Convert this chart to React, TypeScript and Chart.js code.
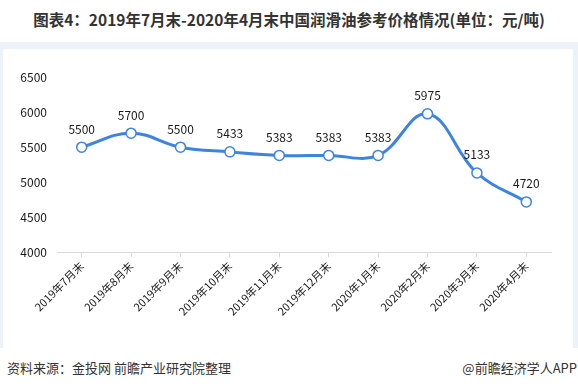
import React, { useEffect, useRef } from "react";
import { Chart, registerables } from "chart.js";

Chart.register(...registerables);

const categories = [
  "2019年7月末",
  "2019年8月末",
  "2019年9月末",
  "2019年10月末",
  "2019年11月末",
  "2019年12月末",
  "2020年1月末",
  "2020年2月末",
  "2020年3月末",
  "2020年4月末",
];
const prices = [5500, 5700, 5500, 5433, 5383, 5383, 5383, 5975, 5133, 4720];
const yMin = 4000;
const yMax = 6500;
const yStep = 500;

const titleText = "图表4：2019年7月末-2020年4月末中国润滑油参考价格情况(单位：元/吨)";
const sourceText = "资料来源：金投网 前瞻产业研究院整理";
const brandText = "@前瞻经济学人APP";

const FONT = '"Noto Sans CJK SC", "Noto Sans", sans-serif';
const LINE_COLOR = "#3d84e0";

const valueLabels = {
  id: "valueLabels",
  afterDatasetsDraw(chart: any) {
    const ctx = chart.ctx;
    const meta = chart.getDatasetMeta(0);
    const data = chart.data.datasets[0].data as number[];
    ctx.save();
    ctx.font = `12px ${FONT}`;
    ctx.fillStyle = "#1a1a1a";
    ctx.textAlign = "center";
    ctx.textBaseline = "middle";
    meta.data.forEach((pt: any, i: number) => {
      ctx.fillText(String(data[i]), pt.x, pt.y - 18);
    });
    ctx.restore();
  },
};

export default function App() {
  const ref = useRef<HTMLCanvasElement | null>(null);

  useEffect(() => {
    document.body.style.margin = "0";
    if (!ref.current) return;
    const chart = new Chart(ref.current, {
      type: "line",
      data: {
        labels: categories,
        datasets: [
          {
            data: prices,
            borderColor: LINE_COLOR,
            borderWidth: 3,
            tension: 0.4,
            pointRadius: 5,
            pointHoverRadius: 5,
            pointBackgroundColor: "#ffffff",
            pointBorderColor: LINE_COLOR,
            pointBorderWidth: 1.5,
            fill: false,
          },
        ],
      },
      options: {
        animation: false,
        responsive: false,
        maintainAspectRatio: false,
        layout: { padding: { top: 28, right: 22, bottom: 28, left: 14 } },
        plugins: {
          legend: { display: false },
          tooltip: { enabled: false },
          title: { display: false },
        },
        scales: {
          x: {
            offset: true,
            afterFit: (scale: any) => {
              scale.paddingLeft = 0;
            },
            grid: {
              display: true,
              drawOnChartArea: false,
              drawTicks: true,
              tickLength: 5,
              color: "#d9d9d9",
            },
            border: { display: true, color: "#d9d9d9" },
            ticks: {
              autoSkip: false,
              minRotation: 45,
              maxRotation: 45,
              color: "#1a1a1a",
              font: { family: FONT, size: 11 },
              padding: 2,
            },
          },
          y: {
            min: yMin,
            max: yMax,
            afterFit: (scale: any) => {
              scale.width = 40;
            },
            grid: { display: false, drawTicks: false, tickLength: 0 },
            border: { display: false },
            ticks: {
              stepSize: yStep,
              color: "#1a1a1a",
              font: { family: FONT, size: 12 },
              padding: 10,
              callback: (v: any) => String(v),
            },
          },
        },
      },
      plugins: [valueLabels],
    });
    return () => chart.destroy();
  }, []);

  return (
    <div
      style={{
        position: "relative",
        width: 578,
        height: 388,
        background: "#ffffff",
        overflow: "hidden",
        fontFamily: FONT,
      }}
    >
      <div
        style={{
          position: "absolute",
          left: 0,
          top: 7,
          width: 578,
          textAlign: "center",
          fontSize: 15.5,
          fontWeight: "bold",
          color: "#333333",
          lineHeight: "24px",
          whiteSpace: "nowrap",
        }}
      >
        {titleText}
      </div>
      <div
        style={{
          position: "absolute",
          left: 0,
          top: 42,
          width: 578,
          height: 306,
          background: "#edf1f8",
        }}
      />
      <div
        style={{
          position: "absolute",
          left: 3,
          top: 49,
          width: 570,
          height: 299,
          background: "#ffffff",
        }}
      >
        <canvas ref={ref} width={570} height={299} style={{ display: "block" }} />
      </div>
      <div
        style={{
          position: "absolute",
          left: 7,
          top: 358,
          fontSize: 13,
          color: "#333333",
          lineHeight: "20px",
          whiteSpace: "nowrap",
        }}
      >
        {sourceText}
      </div>
      <div
        style={{
          position: "absolute",
          right: 1,
          top: 358,
          fontSize: 13,
          color: "#333333",
          lineHeight: "20px",
          whiteSpace: "nowrap",
        }}
      >
        {brandText}
      </div>
    </div>
  );
}
